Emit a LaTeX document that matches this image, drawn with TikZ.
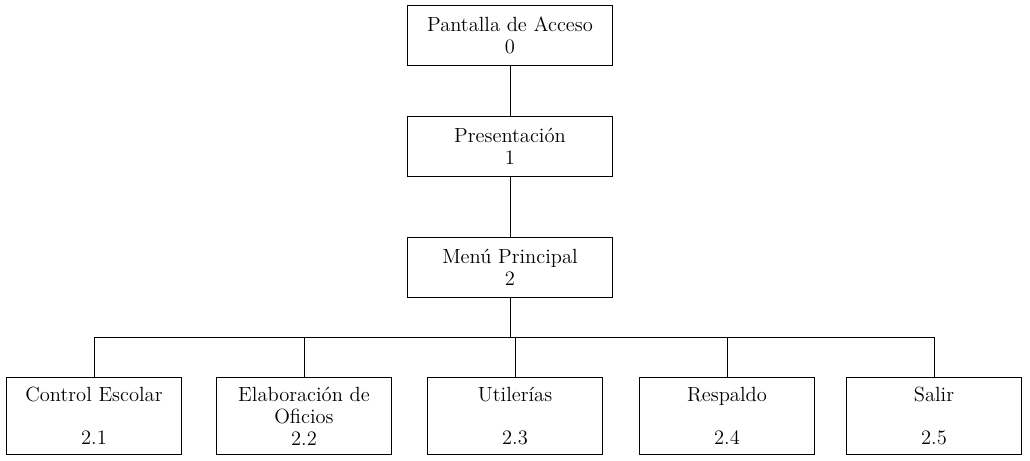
\documentclass[tikz,border=0pt]{standalone}
\usetikzlibrary{positioning}

\begin{document}
\begin{tikzpicture}[x=0.025cm,y=-0.025cm,line width=0.7pt,
  caja/.style={draw,align=center,inner sep=2pt,font=\fontsize{14.6}{15.6}\selectfont},
  alta/.style={caja,minimum width=5.1cm,minimum height=1.5cm},
  baja/.style={caja,minimum width=4.375cm,minimum height=1.925cm}]
\useasboundingbox (0,0) rectangle (1030,460);
\node[alta] (acceso) at (510,35) {Pantalla de Acceso\\0};
\node[alta] (present) at (510,146) {Presentación\\1};
\node[alta] (menu) at (510,267) {Menú Principal\\2};
\coordinate (bar) at (510,337);
\node[baja] (control) at (94,416) {Control Escolar\\[15pt]2.1};
\node[baja] (oficios) at (304,416) {Elaboración de\\Oficios\\2.2};
\node[baja] (util) at (515,416) {Utilerías\\[15pt]2.3};
\node[baja] (resp) at (727,416) {Respaldo\\[15pt]2.4};
\node[baja] (salir) at (934,416) {Salir\\[15pt]2.5};
\draw (acceso) -- (present);
\draw (present) -- (menu);
\draw (menu) -- (bar);
\foreach \hijo in {control,oficios,util,resp,salir}
  \draw (bar) -| (\hijo.north);
\end{tikzpicture}
\end{document}
